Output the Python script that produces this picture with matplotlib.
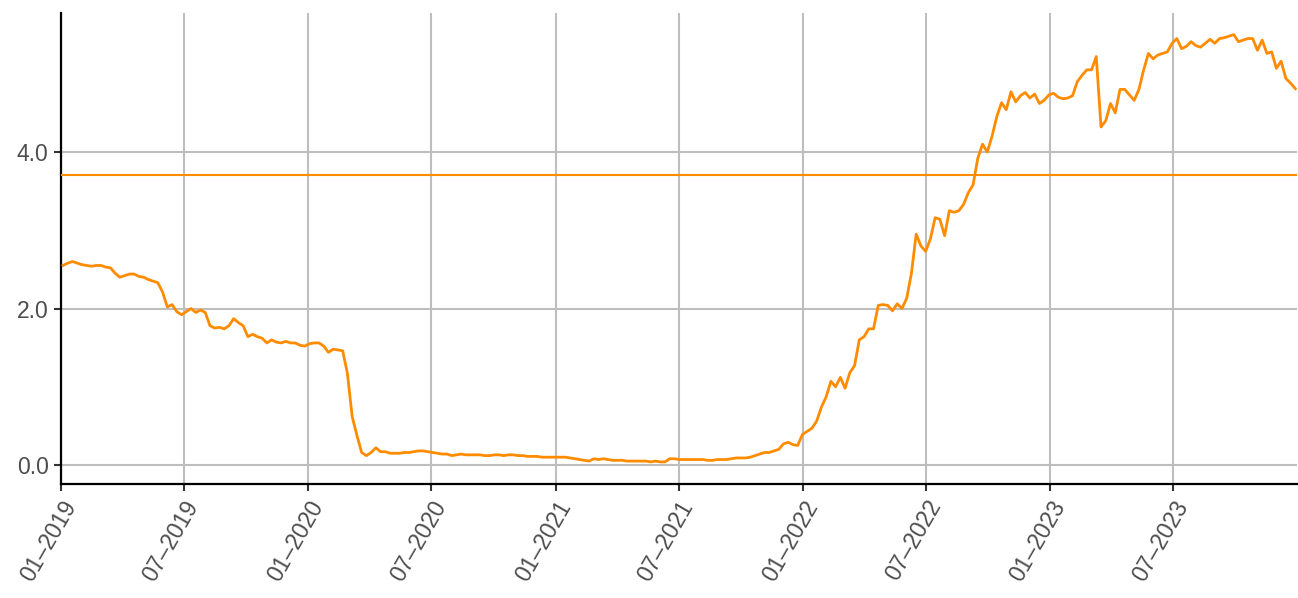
import numpy as np
import pandas as pd
import matplotlib
matplotlib.use("Agg")
import matplotlib.pyplot as plt
import matplotlib.dates as mdates

# Weekly (Friday) readings of the series, one list per year
values_2019 = [2.55, 2.58, 2.60, 2.58,
               2.56, 2.55, 2.54, 2.55,
               2.55, 2.53, 2.52, 2.45, 2.40,
               2.42, 2.44, 2.44, 2.41,
               2.40, 2.37, 2.35, 2.33, 2.21,
               2.02, 2.05, 1.96, 1.92,
               1.96, 2.00, 1.95, 1.98,
               1.95, 1.78, 1.75, 1.76, 1.74,
               1.78, 1.87, 1.82, 1.78,
               1.64, 1.67, 1.64, 1.62,
               1.56, 1.60, 1.57, 1.56, 1.58,
               1.56, 1.56, 1.53, 1.52]
values_2020 = [1.55, 1.56, 1.56, 1.52, 1.44,
               1.48, 1.47, 1.46, 1.17,
               0.62, 0.38, 0.16, 0.12,
               0.16, 0.22, 0.17, 0.17,
               0.15, 0.15, 0.15, 0.16, 0.16,
               0.17, 0.18, 0.18, 0.17,
               0.16, 0.15, 0.14, 0.14, 0.12,
               0.13, 0.14, 0.13, 0.13,
               0.13, 0.13, 0.12, 0.12,
               0.13, 0.13, 0.12, 0.13, 0.13,
               0.12, 0.12, 0.11, 0.11,
               0.11, 0.10, 0.10, 0.10]
values_2021 = [0.10, 0.10, 0.10, 0.09, 0.08,
               0.07, 0.06, 0.05, 0.08,
               0.07, 0.08, 0.07, 0.06,
               0.06, 0.06, 0.05, 0.05, 0.05,
               0.05, 0.05, 0.04, 0.05,
               0.04, 0.04, 0.08, 0.08,
               0.07, 0.07, 0.07, 0.07, 0.07,
               0.07, 0.06, 0.06, 0.07,
               0.07, 0.07, 0.08, 0.09,
               0.09, 0.09, 0.10, 0.12, 0.14,
               0.16, 0.16, 0.18, 0.20,
               0.27, 0.29, 0.26, 0.25, 0.39]
values_2022 = [0.43, 0.47, 0.56, 0.74,
               0.87, 1.07, 1.00, 1.12,
               0.98, 1.18, 1.27, 1.60,
               1.64, 1.74, 1.74, 2.04, 2.05,
               2.04, 1.97, 2.06, 2.00,
               2.13, 2.45, 2.95, 2.80,
               2.73, 2.89, 3.16, 3.14, 2.93,
               3.25, 3.23, 3.25, 3.33,
               3.48, 3.58, 3.92, 4.10, 4.00,
               4.20, 4.45, 4.63, 4.54,
               4.77, 4.64, 4.72, 4.76,
               4.69, 4.74, 4.62, 4.66, 4.73]
values_2023 = [4.75, 4.70, 4.68, 4.69,
               4.72, 4.90, 4.98, 5.05,
               5.05, 5.22, 4.32, 4.40, 4.62,
               4.50, 4.80, 4.80, 4.73,
               4.66, 4.80, 5.05, 5.26,
               5.19, 5.24, 5.26, 5.28, 5.39,
               5.45, 5.32, 5.35, 5.41,
               5.36, 5.34, 5.39, 5.44,
               5.39, 5.45, 5.46, 5.48, 5.50,
               5.41, 5.43, 5.45, 5.45,
               5.30, 5.43, 5.26, 5.28,
               5.07, 5.16, 4.94, 4.88, 4.81]

reference_level = 3.7
y_ticks = [0.0, 2.0, 4.0]

values = values_2019 + values_2020 + values_2021 + values_2022 + values_2023
dates = pd.date_range("2019-01-04", "2023-12-29", freq="W-FRI")
n = min(len(dates), len(values))
dates = dates[:n]
values = values[:n]

orange = "#FF8C00"
fig = plt.figure(figsize=(12.98, 5.98), dpi=100)
ax = fig.add_axes([0.047, 0.1906, 0.952, 0.7876])

ax.plot(dates, values, color=orange, linewidth=2.0, zorder=3)
ax.axhline(reference_level, color=orange, linewidth=1.5, zorder=3)

ax.set_xlim(pd.Timestamp("2019-01-01"), pd.Timestamp("2023-12-31"))
ax.set_ylim(-0.243, 5.776)
ax.set_yticks(y_ticks)
ax.yaxis.set_major_formatter(matplotlib.ticker.FormatStrFormatter("%.1f"))
ax.xaxis.set_major_locator(mdates.MonthLocator(bymonth=[1, 7]))
ax.xaxis.set_major_formatter(mdates.DateFormatter("%m\u2013%Y"))

ax.grid(True, color="#BEBEBE", linewidth=1.5, zorder=0)
ax.set_axisbelow(True)
for s in ["top", "right"]:
    ax.spines[s].set_visible(False)
for s in ["left", "bottom"]:
    ax.spines[s].set_color("black")
    ax.spines[s].set_linewidth(1.6)

ax.tick_params(axis="both", colors="#333333", labelcolor="#4D4D4D",
               labelsize=16.5, length=5, width=1.5, pad=4)
for lab in ax.get_xticklabels():
    lab.set_rotation(60)
    lab.set_ha("right")
    lab.set_rotation_mode("anchor")
    lab.set_fontfamily("Liberation Sans")
for lab in ax.get_yticklabels():
    lab.set_fontfamily("Liberation Sans")

fig.savefig("out.png", dpi=100)
